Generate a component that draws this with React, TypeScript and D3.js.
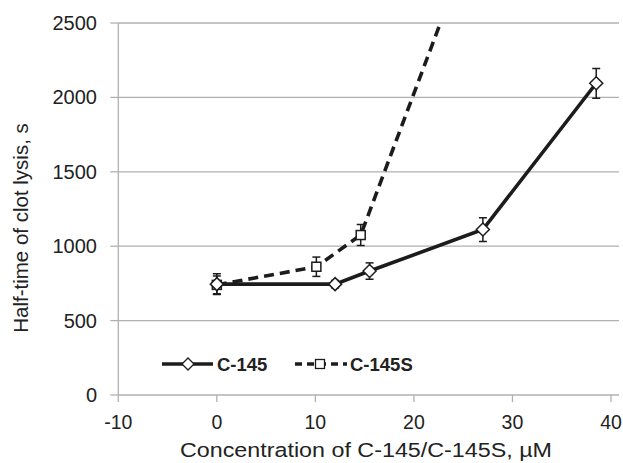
import React from "react";
import * as d3 from "d3";

const xTicks = [-10, 0, 10, 20, 30, 40];
const yTicks = [0, 500, 1000, 1500, 2000, 2500];

const c145X = [0, 12, 15.5, 27, 38.5];
const c145Y = [745, 745, 833, 1112, 2095];
const c145Err = [70, 25, 55, 80, 100];

const c145sX = [0, 10.1, 14.6, 27];
const c145sY = [740, 862, 1075, 3260];
const c145sErr = [60, 65, 70, 0];

const seriesNames = ["C-145", "C-145S"];

const W = 623;
const H = 463;
const left = 118.3;
const right = 619;
const top = 23;
const bottom = 395;

export default function App() {
  const x = d3.scaleLinear().domain([-10, 40]).range([left, 611]);
  const y = d3.scaleLinear().domain([0, 2500]).range([bottom, top]);
  const line = d3
    .line<[number, number]>()
    .x((d) => x(d[0]))
    .y((d) => y(d[1]));

  const s1 = c145X.map((v, i) => [v, c145Y[i]] as [number, number]);
  const s2 = c145sX.map((v, i) => [v, c145sY[i]] as [number, number]);
  const gridColor = "#b0b0b0";
  const ink = "#1c1c1c";
  const font = "'Liberation Sans', Arial, sans-serif";

  const diamond = (cx: number, cy: number, r = 6.5) =>
    `M${cx},${cy - r}L${cx + r},${cy}L${cx},${cy + r}L${cx - r},${cy}Z`;

  const errBar = (cx: number, cy: number, e: number, key: string) => {
    if (!e) return null;
    const y1 = y(cy + e);
    const y2 = y(cy - e);
    return (
      <g key={key} stroke={ink} strokeWidth={1.5}>
        <line x1={cx} x2={cx} y1={y1} y2={y2} />
        <line x1={cx - 4} x2={cx + 4} y1={y1} y2={y1} />
        <line x1={cx - 4} x2={cx + 4} y1={y2} y2={y2} />
      </g>
    );
  };

  return (
    <div style={{ position: "fixed", left: 0, top: 0 }}>
      <svg width={W} height={H} style={{ display: "block", background: "#fff" }}>
        <defs>
          <clipPath id="plot">
            <rect x={left} y={top} width={right - left} height={bottom - top} />
          </clipPath>
        </defs>
        {yTicks.map((t) => (
          <line
            key={"g" + t}
            x1={left}
            x2={right}
            y1={y(t)}
            y2={y(t)}
            stroke={gridColor}
            strokeWidth={1.3}
          />
        ))}
        <line x1={left} x2={left} y1={top} y2={bottom} stroke={gridColor} strokeWidth={1.3} />
        {yTicks.map((t) => (
          <g key={"yt" + t}>
            <line x1={left - 8} x2={left} y1={y(t)} y2={y(t)} stroke={gridColor} strokeWidth={1.3} />
            <text
              x={97}
              y={y(t)}
              dy="0.35em"
              textAnchor="end"
              fontFamily={font}
              fontSize={20}
              fill="#222"
            >
              {t}
            </text>
          </g>
        ))}
        {xTicks.map((t) => (
          <g key={"xt" + t}>
            <line x1={x(t)} x2={x(t)} y1={bottom} y2={bottom + 7} stroke={gridColor} strokeWidth={1.3} />
            <text
              x={x(t)}
              y={429}
              textAnchor="middle"
              fontFamily={font}
              fontSize={19.5}
              fill="#222"
            >
              {t}
            </text>
          </g>
        ))}
        <text
          x={366}
          y={457}
          textAnchor="middle"
          fontFamily={font}
          fontSize={20.5}
          textLength={372}
          lengthAdjust="spacingAndGlyphs"
          fill="#222"
        >
          Concentration of C-145/C-145S, µM
        </text>
        <text
          transform={`translate(21,228) rotate(-90)`}
          textAnchor="middle"
          dy="0.35em"
          fontFamily={font}
          fontSize={20.5}
          fill="#222"
        >
          Half-time of clot lysis, s
        </text>

        <g clipPath="url(#plot)">
          <path d={line(s2) || ""} fill="none" stroke={ink} strokeWidth={3.6} strokeDasharray="10,6" />
          <path d={line(s1) || ""} fill="none" stroke={ink} strokeWidth={3.6} />
          {s2.map((d, i) => errBar(x(d[0]), d[1], c145sErr[i], "e2" + i))}
          {s1.map((d, i) => errBar(x(d[0]), d[1], c145Err[i], "e1" + i))}
          {s2.map((d, i) => (
            <rect
              key={"m2" + i}
              x={x(d[0]) - 4.5}
              y={y(d[1]) - 4.5}
              width={9}
              height={9}
              fill="#fff"
              stroke={ink}
              strokeWidth={1.5}
            />
          ))}
          {s1.map((d, i) => (
            <path key={"m1" + i} d={diamond(x(d[0]), y(d[1]))} fill="#fff" stroke={ink} strokeWidth={1.5} />
          ))}
        </g>

        <g>
          <line x1={162} x2={213} y1={364} y2={364} stroke={ink} strokeWidth={3.6} />
          <path d={diamond(188, 364, 6)} fill="#fff" stroke={ink} strokeWidth={1.3} />
          <text x={217} y={364} dy="0.36em" fontFamily={font} fontSize={18.5} fontWeight="bold" fill="#222">
            {seriesNames[0]}
          </text>
          <line x1={295} x2={347} y1={364} y2={364} stroke={ink} strokeWidth={3.6} strokeDasharray="7,5" />
          <rect x={315.5} y={359.5} width={9} height={9} fill="#fff" stroke={ink} strokeWidth={1.3} />
          <text x={350} y={364} dy="0.36em" fontFamily={font} fontSize={18.5} fontWeight="bold" fill="#222">
            {seriesNames[1]}
          </text>
        </g>
      </svg>
    </div>
  );
}
